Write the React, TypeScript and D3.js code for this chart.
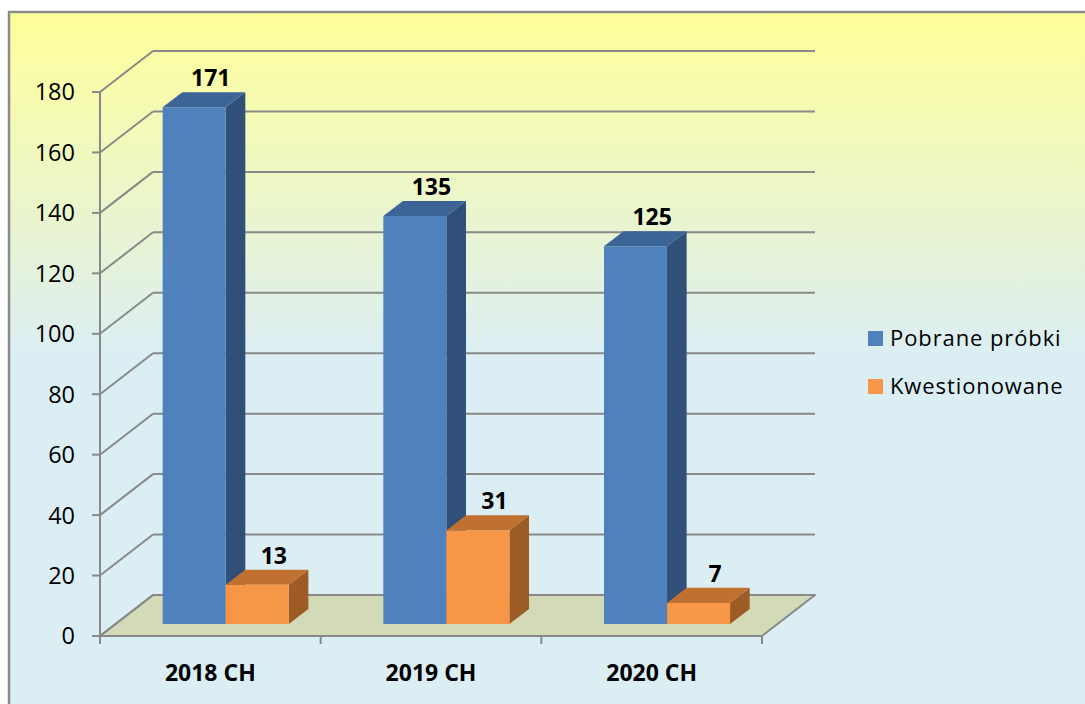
import React from "react";
import * as d3 from "d3";

const categories = ["2018 CH", "2019 CH", "2020 CH"];
const seriesNames = ["Pobrane próbki", "Kwestionowane"];
const pobrane = [171, 135, 125];
const kwestionowane = [13, 31, 7];
const yTicks = [0, 20, 40, 60, 80, 100, 120, 140, 160, 180];

const seriesValues = [pobrane, kwestionowane];
const faceColors = [
  { front: "#4f81bd", top: "#3d6497", side: "#30507a" },
  { front: "#f79646", top: "#c0702f", side: "#9d5b25" },
];

const W = 1085;
const H = 704;
const DX = 53;
const DY = 41;
const Z0 = 0.29;
const Z1 = 0.66;
const GRID = "#898989";
const FONT = "'Open Sans', 'Liberation Sans', Arial, sans-serif";

export default function App() {
  const x = d3.scaleBand<string>().domain(categories).range([100, 762]).padding(0);
  const inner = d3
    .scaleBand<string>()
    .domain(seriesNames)
    .range([0, x.bandwidth()])
    .paddingInner(0)
    .paddingOuter(0.75);
  const y = d3.scaleLinear().domain([0, 180]).range([636, 92]);

  const P = (px: number, v: number, z: number): [number, number] => [px + z * DX, y(v) - z * DY];
  const poly = (pts: [number, number][]) => pts.map((p) => p.join(",")).join(" ");

  const xLeft = x.range()[0];
  const xRight = x.range()[1];

  const bars: React.ReactNode[] = [];
  const labels: React.ReactNode[] = [];
  categories.forEach((c, ci) => {
    seriesNames.forEach((s, si) => {
      const v = seriesValues[si][ci];
      const x0 = (x(c) as number) + (inner(s) as number);
      const x1 = x0 + inner.bandwidth();
      const col = faceColors[si];
      const front = poly([P(x0, 0, Z0), P(x0, v, Z0), P(x1, v, Z0), P(x1, 0, Z0)]);
      const top = poly([P(x0, v, Z0), P(x0, v, Z1), P(x1, v, Z1), P(x1, v, Z0)]);
      const side = poly([P(x1, v, Z0), P(x1, v, Z1), P(x1, 0, Z1), P(x1, 0, Z0)]);
      bars.push(
        <g key={`${c}-${s}`}>
          <polygon points={side} fill={col.side} />
          <polygon points={top} fill={col.top} />
          <polygon points={front} fill={col.front} />
        </g>
      );
      const [lx, ly] = P((x0 + x1) / 2, v, Z1);
      labels.push(
        <text
          key={`l-${c}-${s}`}
          x={lx - 3}
          y={ly - 6}
          textAnchor="middle"
          fontFamily={FONT}
          fontWeight="bold"
          fontSize={23}
          fill="#000"
        >
          {v}
        </text>
      );
    });
  });

  return (
    <svg
      width={W}
      height={H}
      style={{ position: "absolute", left: 0, top: 0, display: "block" }}
    >
      <defs>
        <linearGradient id="bg" gradientUnits="userSpaceOnUse" x1="0" y1="12" x2="0" y2="704">
          <stop offset="0" stopColor="#ffff99" />
          <stop offset="0.5" stopColor="#dbeef4" />
          <stop offset="1" stopColor="#dbeef4" />
        </linearGradient>
      </defs>
      <rect x={0} y={0} width={W} height={H} fill="#fff" />
      <rect x={9} y={12} width={1090} height={710} fill="url(#bg)" stroke="#8a8a8a" strokeWidth={2.5} />

      {/* floor */}
      <polygon
        points={poly([P(xLeft, 0, 0), P(xLeft, 0, 1), P(xRight, 0, 1), P(xRight, 0, 0)])}
        fill="#d3dab7"
        stroke={GRID}
        strokeWidth={2}
        strokeLinejoin="round"
      />

      {/* gridlines: side diagonals and back wall */}
      {yTicks.map((t) => {
        const a = P(xLeft, t, 0);
        const b = P(xLeft, t, 1);
        const c = P(xRight, t, 1);
        return (
          <g key={`g-${t}`}>
            <line x1={a[0]} y1={a[1]} x2={b[0]} y2={b[1]} stroke={GRID} strokeWidth={2} />
            <line x1={b[0]} y1={b[1]} x2={c[0]} y2={c[1]} stroke={GRID} strokeWidth={2} />
          </g>
        );
      })}

      {/* y axis */}
      <line x1={xLeft} y1={y(180)} x2={xLeft} y2={y(0) + 8} stroke={GRID} strokeWidth={2} />
      {yTicks.map((t) => (
        <g key={`yt-${t}`}>
          <line x1={xLeft - 8} y1={y(t)} x2={xLeft} y2={y(t)} stroke={GRID} strokeWidth={2} />
          <text
            x={75}
            y={y(t)}
            dy="0.36em"
            textAnchor="end"
            fontFamily={FONT}
            fontSize={23.5}
            fill="#000"
          >
            {t}
          </text>
        </g>
      ))}

      {/* x axis */}
      <line x1={xLeft} y1={y(0)} x2={xRight} y2={y(0)} stroke={GRID} strokeWidth={2} />
      {[...categories.map((c) => x(c) as number), xRight].map((px, i) => (
        <line key={`xt-${i}`} x1={px} y1={y(0)} x2={px} y2={y(0) + 8} stroke={GRID} strokeWidth={2} />
      ))}
      {categories.map((c) => (
        <text
          key={`xl-${c}`}
          x={(x(c) as number) + x.bandwidth() / 2}
          y={681}
          textAnchor="middle"
          fontFamily={FONT}
          fontWeight="bold"
          fontSize={23}
          fill="#000"
        >
          {c}
        </text>
      ))}

      {bars}
      {labels}

      {/* legend */}
      {seriesNames.map((s, i) => (
        <g key={`lg-${s}`} transform={`translate(868, ${331 + i * 48})`}>
          <rect x={0} y={0} width={15} height={15} fill={faceColors[i].front} />
          <text
            x={22}
            y={15}
            fontFamily={FONT}
            fontSize={22}
            letterSpacing={0.9}
            fill="#000"
          >
            {s}
          </text>
        </g>
      ))}
    </svg>
  );
}
